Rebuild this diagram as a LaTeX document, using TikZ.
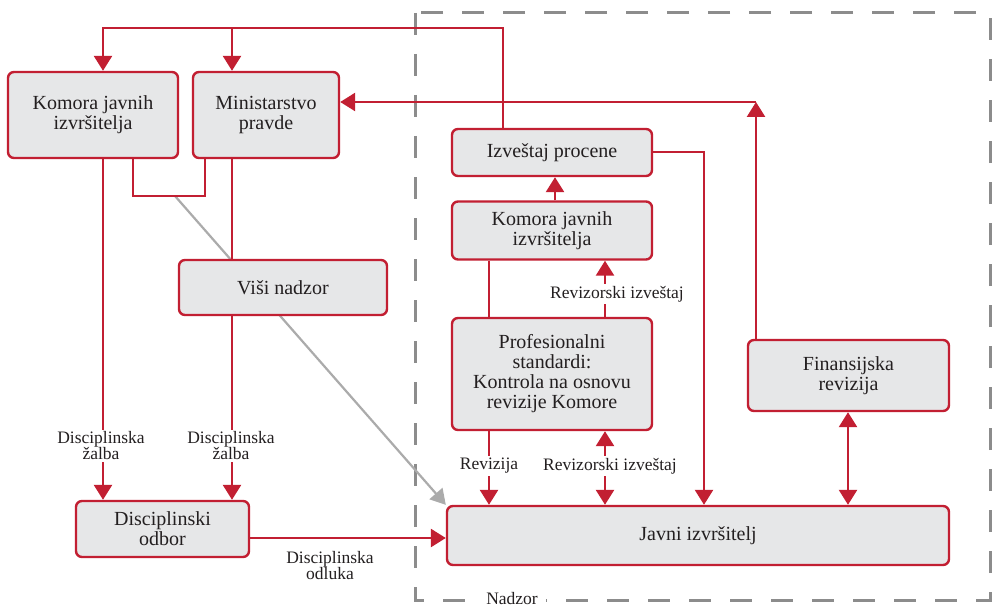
\documentclass[tikz,border=0pt]{standalone}
\usepackage{fontspec}
\setmainfont{Liberation Serif}
\usetikzlibrary{arrows.meta,calc}
\definecolor{cred}{HTML}{C21F32}
\definecolor{cfill}{HTML}{E6E7E8}
\definecolor{cdash}{HTML}{8C8C8C}
\definecolor{cgray}{HTML}{ABABAB}
\definecolor{ctext}{HTML}{231F20}
\pgfdeclarelayer{bg}
\pgfsetlayers{bg,main}
\begin{document}
\begin{tikzpicture}[x=1pt,y=-1pt,
  box/.style={draw=cred, fill=cfill, line width=2.4pt, rounded corners=6pt, align=center,
    font=\fontsize{20}{20}\selectfont, text=ctext, inner sep=0pt},
  link/.style={draw=cred, line width=2.6pt, line join=miter},
  tip/.style={-{Triangle[length=15pt,width=18pt]}},
  both/.style={{Triangle[length=15pt,width=18pt]}-{Triangle[length=15pt,width=18pt]}},
  lbl/.style={fill=white, inner sep=2pt, align=center, font=\fontsize{17.5}{16}\selectfont, text=ctext},
  grayline/.style={draw=cgray, line width=2.2pt, -{Triangle[length=15pt,width=17pt]}}]
\useasboundingbox (0,0) rectangle (993,607);

% nodes
\node[box, minimum width=170pt, minimum height=86pt] (komL) at (93,115) {Komora javnih\\izvršitelja};
\node[box, minimum width=146pt, minimum height=86pt] (min) at (266,115) {Ministarstvo\\pravde};
\node[box, minimum width=208pt, minimum height=55pt] (visi) at (283,287.5) {Viši nadzor};
\node[box, minimum width=173pt, minimum height=56pt] (disc) at (162.5,529) {Disciplinski\\odbor};
\node[box, minimum width=502pt, minimum height=59pt] (javni) at (698,535.5) {Javni izvršitelj};
\node[box, minimum width=201pt, minimum height=71pt] (fin) at (848.5,375.5) {Finansijska\\revizija};
\node[box, minimum width=200pt, minimum height=112pt] (prof) at (552,374) {Profesionalni\\standardi:\\Kontrola na osnovu\\revizije Komore};
\node[box, minimum width=200pt, minimum height=58pt] (komR) at (552,230.5) {Komora javnih\\izvršitelja};
\node[box, minimum width=200pt, minimum height=47pt] (izv) at (552,152.5) {Izveštaj procene};

% coordinates
\coordinate (cA) at (503,28);
\coordinate (cB) at (103,28);
\coordinate (cC) at (232,28);
\coordinate (cF) at (756,102);
\coordinate (cG) at (133,196);
\coordinate (cH) at (205,196);
\coordinate (cI) at (175,196);
\coordinate (cJ) at (704,152);
\coordinate (cy) at (0,538);
\coordinate (xa) at (103,0);
\coordinate (xb) at (232,0);
\coordinate (xc) at (555,0);
\coordinate (xd) at (489,0);
\coordinate (xe) at (605,0);
\coordinate (xf) at (848,0);

\begin{pgfonlayer}{bg}
\fill[white] (0,0) rectangle (993,607);
\draw[cdash, line width=3pt, dash pattern=on 22pt off 19pt] (415,13) rectangle (990,600);
\draw[grayline] (cI) -- (javni.north west);
\end{pgfonlayer}

% connectors
\draw[link,tip] (izv.north -| cA) -- (cA) -- (cB) -- (komL.north -| cB);
\draw[link,tip] (cC) -- (min.north -| cC);
\draw[link,tip] (fin.north -| cF) -- (cF);
\draw[link,tip] (cF) -- (min.east |- cF);
\draw[link] (komL.south -| cG) -- (cG) -- (cH) -- (min.south -| cH);
\draw[link,tip] (komL.south -| xa) -- (disc.north -| xa);
\draw[link] (min.south -| xb) -- (visi.north -| xb);
\draw[link,tip] (visi.south -| xb) -- (disc.north -| xb);
\draw[link,tip] (disc.east |- cy) -- (javni.west |- cy);
\draw[link,tip] (komR.north -| xc) -- (izv.south -| xc);
\draw[link] (komR.south -| xd) -- (prof.north -| xd);
\draw[link,tip] (prof.north -| xe) -- (komR.south -| xe);
\draw[link,tip] (izv.east |- cJ) -- (cJ) -- (javni.north -| cJ);
\draw[link,tip] (prof.south -| xd) -- (javni.north -| xd);
\draw[link,both] (prof.south -| xe) -- (javni.north -| xe);
\draw[link,both] (fin.south -| xf) -- (javni.north -| xf);

% labels
\node[lbl] (l1) at (101,446) {Disciplinska\\žalba};
\node[lbl] (l2) at (231,446) {Disciplinska\\žalba};
\node[lbl, fill=none] (l3) at (330,566) {Disciplinska\\odluka};
\node[lbl] (l4) at (617,294) {Revizorski izveštaj};
\node[lbl] (l5) at (489,466) {Revizija};
\node[lbl] (l6) at (610,466) {Revizorski izveštaj};
\node[lbl, inner xsep=8pt, inner ysep=1pt] (l7) at (512,599) {Nadzor};
\end{tikzpicture}
\end{document}
